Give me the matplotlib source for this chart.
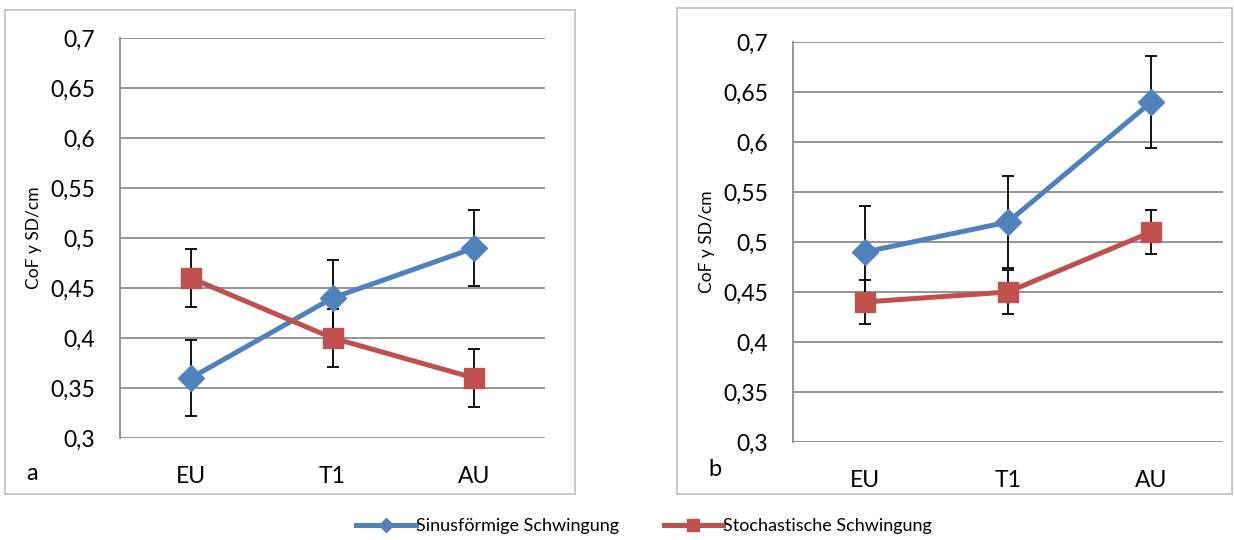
import matplotlib
matplotlib.use("Agg")
import matplotlib.pyplot as plt
from matplotlib.patches import Rectangle
from matplotlib.lines import Line2D

plt.rcParams['font.family'] = ['Lato', 'DejaVu Sans']

categories = ["EU", "T1", "AU"]
yticks = [0.3, 0.35, 0.4, 0.45, 0.5, 0.55, 0.6, 0.65, 0.7]
ytick_labels = ["0,3", "0,35", "0,4", "0,45", "0,5", "0,55", "0,6", "0,65", "0,7"]

a_sinus = [0.36, 0.44, 0.49]
a_sinus_err = [0.038, 0.038, 0.038]
a_stoch = [0.46, 0.40, 0.36]
a_stoch_err = [0.029, 0.029, 0.029]

b_sinus = [0.49, 0.52, 0.64]
b_sinus_err = [0.046, 0.046, 0.046]
b_stoch = [0.44, 0.45, 0.51]
b_stoch_err = [0.022, 0.022, 0.022]

series_names = ["Sinusförmige Schwingung", "Stochastische Schwingung"]
blue = "#4F81BD"
red = "#C0504D"
grid_col = "#8C8C8C"

W, H = 1234, 540
fig = plt.figure(figsize=(W / 100, H / 100), dpi=100)

# panel frames
for (x0, y0, x1, y1) in [(5, 10, 575, 494), (677, 8, 1232, 494)]:
    fig.patches.append(Rectangle((x0 / W, 1 - y1 / H), (x1 - x0) / W, (y1 - y0) / H,
                                 transform=fig.transFigure, fill=False,
                                 edgecolor="#BFBFBF", linewidth=1.2))

def panel(rect, sin, sin_err, sto, sto_err, letter, letter_pos):
    x0, ytop, x1, ybot = rect
    ax = fig.add_axes([x0 / W, 1 - ybot / H, (x1 - x0) / W, (ybot - ytop) / H])
    xs = list(range(len(categories)))
    ax.errorbar(xs, sin, yerr=sin_err, fmt='none', ecolor='black', elinewidth=1.3,
                capsize=4, capthick=1.3, zorder=3)
    ax.errorbar(xs, sto, yerr=sto_err, fmt='none', ecolor='black', elinewidth=1.3,
                capsize=4, capthick=1.3, zorder=3)
    ax.plot(xs, sin, color=blue, lw=3.6, marker='D', markersize=13, zorder=4)
    ax.plot(xs, sto, color=red, lw=3.6, marker='s', markersize=14, zorder=4)
    ax.set_xlim(-0.5, 2.5)
    ax.set_ylim(0.3, 0.7)
    ax.set_yticks(yticks)
    ax.set_yticklabels(ytick_labels)
    ax.set_xticks(xs)
    ax.set_xticklabels(categories)
    ax.tick_params(axis='both', length=0, labelsize=16.5)
    ax.tick_params(axis='y', pad=18)
    ax.tick_params(axis='x', pad=20)
    for s in ['top', 'right', 'bottom']:
        ax.spines[s].set_visible(False)
    ax.spines['left'].set_color(grid_col)
    ax.spines['left'].set_linewidth(1.3)
    ax.yaxis.grid(True, color=grid_col, linewidth=1.3)
    ax.set_axisbelow(True)
    ax.set_ylabel("CoF y SD/cm", fontsize=12.5, labelpad=6)
    fig.text(letter_pos[0] / W, 1 - letter_pos[1] / H, letter, fontsize=17,
             ha='left', va='center')
    return ax

panel((120, 38, 545, 438), a_sinus, a_sinus_err, a_stoch, a_stoch_err, "a", (26, 474))
panel((793, 42, 1223, 442), b_sinus, b_sinus_err, b_stoch, b_stoch_err, "b", (708, 470))

handles = [Line2D([0], [0], color=blue, lw=3.6, marker='D', markersize=7),
           Line2D([0], [0], color=red, lw=3.6, marker='s', markersize=8)]
fig.legend(handles, series_names, loc='center', bbox_to_anchor=(644 / W, 1 - 526 / H),
           ncol=2, frameon=False, fontsize=13, handlelength=3.3, handletextpad=0.0,
           columnspacing=2.5)

fig.savefig("out.png", dpi=100)
